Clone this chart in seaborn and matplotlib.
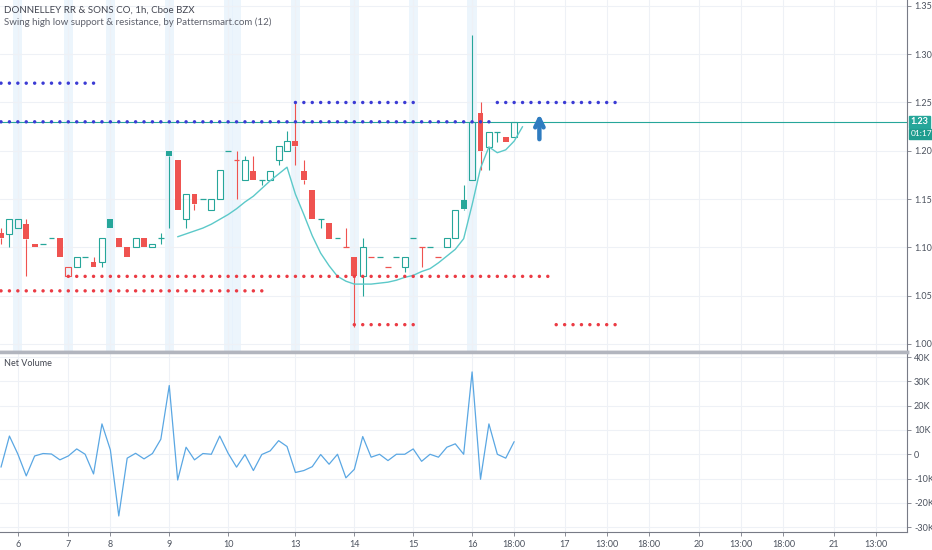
#!/usr/bin/env python3

import pandas
import seaborn as sns
import matplotlib.pyplot as plt
import matplotlib.transforms as mtransforms

# Hourly bars (index 0 = first visible bar)
opens = [1.115, 1.114, 1.120, 1.124, 1.104, 1.104, 1.110, 1.110, 1.070, 1.080,
         1.090, 1.085, 1.085, 1.129, 1.110, 1.100, 1.100, 1.110, 1.100, 1.110,
         1.200, 1.190, 1.129, 1.155, 1.150, 1.139, 1.150, 1.200, 1.190, 1.170,
         1.179, 1.170, 1.170, 1.190, 1.200, 1.210, 1.179, 1.159, 1.129, 1.125,
         1.110, 1.100, 1.090, 1.070, 1.090, 1.090, 1.080, 1.090, 1.080, 1.110,
         1.100, 1.100, 1.090, 1.100, 1.110, 1.149, 1.170, 1.239, 1.204, 1.219,
         1.2146, 1.2146]
highs = [1.120, 1.129, 1.129, 1.129, 1.104, 1.104, 1.110, 1.110, 1.080, 1.090,
         1.090, 1.090, 1.110, 1.129, 1.110, 1.100, 1.110, 1.110, 1.104, 1.115,
         1.200, 1.190, 1.155, 1.155, 1.150, 1.150, 1.180, 1.200, 1.200, 1.195,
         1.195, 1.170, 1.179, 1.205, 1.220, 1.250, 1.190, 1.159, 1.129, 1.125,
         1.110, 1.120, 1.090, 1.110, 1.090, 1.090, 1.080, 1.090, 1.090, 1.110,
         1.100, 1.100, 1.090, 1.110, 1.139, 1.165, 1.320, 1.250, 1.219, 1.219,
         1.2146, 1.230]
lows = [1.104, 1.100, 1.120, 1.070, 1.100, 1.104, 1.110, 1.090, 1.070, 1.080,
        1.090, 1.080, 1.080, 1.120, 1.100, 1.090, 1.100, 1.100, 1.100, 1.104,
        1.120, 1.139, 1.120, 1.139, 1.150, 1.139, 1.150, 1.200, 1.150, 1.170,
        1.170, 1.165, 1.170, 1.185, 1.200, 1.185, 1.166, 1.129, 1.120, 1.109,
        1.110, 1.100, 1.018, 1.050, 1.090, 1.090, 1.080, 1.090, 1.075, 1.110,
        1.080, 1.100, 1.090, 1.100, 1.110, 1.139, 1.170, 1.180, 1.180, 1.209,
        1.2094, 1.2146]
closes = [1.110, 1.129, 1.129, 1.109, 1.100, 1.104, 1.110, 1.090, 1.080, 1.090,
          1.090, 1.080, 1.110, 1.120, 1.100, 1.090, 1.110, 1.100, 1.104, 1.110,
          1.195, 1.139, 1.155, 1.145, 1.150, 1.150, 1.180, 1.200, 1.190, 1.190,
          1.170, 1.170, 1.179, 1.205, 1.210, 1.205, 1.170, 1.129, 1.129, 1.109,
          1.110, 1.100, 1.070, 1.100, 1.090, 1.090, 1.080, 1.090, 1.090, 1.110,
          1.100, 1.100, 1.090, 1.110, 1.139, 1.140, 1.230, 1.200, 1.219, 1.219,
          1.2094, 1.230]

# Net volume per bar, in thousands
net_volume_k = [-5.3, 7.5, 0.1, -8.9, -0.7, 0.3, 0.1, -2.3, -0.7, 2.2,
                0.0, -8.1, 12.5, 1.8, -25.4, -1.6, 0.4, -1.9, 0.3, 6.2,
                28.3, -10.6, 2.9, -2.3, 0.3, 0.0, 7.5, 0.4, -5.3, -0.1,
                -6.7, -0.1, 1.4, 5.6, 3.2, -7.5, -6.7, -5.1, -0.1, -4.1,
                0.0, -9.7, -6.2, 7.3, -1.2, 0.0, -2.6, 0.0, 0.0, 2.2,
                -2.9, 0.0, -1.2, 2.9, 4.3, 0.0, 33.9, -10.3, 12.5, 0.0,
                -1.6, 5.2]

# Teal trailing curve, starts at bar 21
curve_start = 21
curve_values = [1.111, 1.114, 1.117, 1.120, 1.124, 1.129, 1.134, 1.140, 1.147, 1.153,
                1.161, 1.169, 1.176, 1.183, 1.155, 1.134, 1.112, 1.094, 1.081, 1.070,
                1.065, 1.062, 1.062, 1.062, 1.063, 1.064, 1.066, 1.069, 1.071, 1.075,
                1.078, 1.084, 1.091, 1.098, 1.109, 1.144, 1.182, 1.204, 1.198, 1.201,
                1.210, 1.225]

# Swing high (resistance) and swing low (support) dotted levels
res_levels = [1.27, 1.23, 1.25, 1.25]
res_start = [0, 0, 35, 59]
res_end = [11, 58, 49, 73]
sup_levels = [1.055, 1.07, 1.02, 1.02]
sup_start = [0, 8, 42, 66]
sup_end = [31, 65, 49, 73]

# first bar of each session, highlighted
session_bars = [2, 8, 13, 20, 27, 28, 35, 42, 49, 56]

tick_bars = [2, 8, 13, 20, 27, 35, 42, 49, 56, 61, 67, 72, 77, 83, 88, 93, 99, 104]
tick_labels = ["6", "7", "8", "9", "10", "13", "14", "15", "16", "18:00",
               "17", "13:00", "18:00", "20", "13:00", "18:00", "21", "13:00"]

price_ticks = [1.00, 1.05, 1.10, 1.15, 1.20, 1.25, 1.30, 1.35]
volume_ticks = [-30, -20, -10, 0, 10, 20, 30, 40]
volume_labels = ["-30K", "-20K", "-10K", "0", "10K", "20K", "30K", "40K"]

last_price = 1.23
countdown = "01:17"
arrow_bar = 64
arrow_from = 1.212
arrow_to = 1.238

UP = "#26a69a"
DOWN = "#ef5350"
GRID = "#eef1f6"
TEXT = "#4c525e"


def draw_candles(ax):
    """
    Hollow candles: hollow when close > open, coloured by close vs prior close
    """
    w = 0.35
    for i, (o, h, l, c) in enumerate(zip(opens, highs, lows, closes)):
        prev = closes[i - 1] if i > 0 else o
        color = UP if c >= prev else DOWN
        top, bot = max(o, c), min(o, c)
        if h > top:
            ax.vlines(i, top, h, color=color, lw=0.8, zorder=3)
        if l < bot:
            ax.vlines(i, l, bot, color=color, lw=0.8, zorder=3)
        if c == o:
            ax.hlines(o, i - w, i + w, color=color, lw=0.9, zorder=3)
        elif c > o:
            ax.bar(i, top - bot, bottom=bot, width=2 * w, facecolor="none",
                   edgecolor=color, lw=0.8, zorder=3)
        else:
            ax.bar(i, top - bot, bottom=bot, width=2 * w, color=color,
                   lw=0, zorder=3)


def level_dots(levels, starts, ends, kind):
    rows = []
    for lev, s, e in zip(levels, starts, ends):
        for b in range(s, e + 1):
            rows.append({"bar": b, "price": lev, "kind": kind})
    return rows


def main():
    sns.set_theme(style="white")
    plt.rcParams["font.family"] = ["Lato", "DejaVu Sans"]

    fig = plt.figure(figsize=(9.32, 5.5), dpi=100)
    ax = fig.add_axes([0.0, 0.36, 907 / 932, 0.64])
    vax = fig.add_axes([0.0, 18 / 550, 907 / 932, 180 / 550], sharex=ax)

    xlim = (-0.12, 107.7)

    # ---- price panel ----
    for b in session_bars:
        ax.axvspan(b - 0.55, b + 0.55, color="#e6f2fc", alpha=0.75, lw=0, zorder=0)

    ax.axhline(last_price, color=UP, lw=0.8, zorder=2)

    draw_candles(ax)

    curve = pandas.DataFrame({
        "bar": range(curve_start, curve_start + len(curve_values)),
        "price": curve_values,
    })
    sns.lineplot(data=curve, x="bar", y="price", ax=ax, color="#5cc9c9",
                 lw=1.0, zorder=4)

    dots = pandas.DataFrame(
        level_dots(res_levels, res_start, res_end, "res")
        + level_dots(sup_levels, sup_start, sup_end, "sup")
    )
    sns.scatterplot(data=dots, x="bar", y="price", hue="kind",
                    palette={"res": "#3b3bd4", "sup": "#eb3b44"},
                    s=6, linewidth=0, legend=False, ax=ax, zorder=5)

    ax.annotate("", xy=(arrow_bar, arrow_to), xytext=(arrow_bar, arrow_from),
                arrowprops=dict(arrowstyle="->", color="#2f7cc0", lw=3.2,
                                mutation_scale=15, capstyle="round",
                                joinstyle="round", shrinkA=0, shrinkB=0),
                zorder=6)

    ax.set_xlim(*xlim)
    ax.set_ylim(0.9917, 1.3561)
    ax.set_yticks(price_ticks)
    ax.set_yticklabels([f"{p:.2f}" for p in price_ticks])
    ax.yaxis.tick_right()
    ax.grid(True, color=GRID, lw=0.8)
    ax.set_axisbelow(True)
    ax.set_xlabel("")
    ax.set_ylabel("")
    ax.tick_params(axis="x", bottom=False, labelbottom=False)
    ax.tick_params(axis="y", right=True, length=3, width=0.6, color="#787b86",
                   labelsize=6.5, labelcolor=TEXT, pad=2)
    for side in ["top", "left"]:
        ax.spines[side].set_visible(False)
    ax.spines["right"].set_color("#787b86")
    ax.spines["right"].set_linewidth(0.8)
    ax.spines["bottom"].set_color("#b2b5be")
    ax.spines["bottom"].set_linewidth(2.5)

    trans = mtransforms.blended_transform_factory(ax.transAxes, ax.transData)
    ax.text(1.004, last_price, f"{last_price:.2f}", transform=trans, va="center",
            ha="left", fontsize=6.5, color="white", fontweight="bold",
            bbox=dict(boxstyle="square,pad=0.2", fc=UP, ec=UP), clip_on=False)
    ax.annotate(countdown, xy=(1.004, last_price), xycoords=trans,
                xytext=(0, -12), textcoords="offset pixels", va="center",
                ha="left", fontsize=6, color="white",
                bbox=dict(boxstyle="square,pad=0.2", fc="#1f9d8f", ec="#1f9d8f"),
                annotation_clip=False)

    fig.text(4 / 932, 1 - 10 / 550, "DONNELLEY RR & SONS CO, 1h, Cboe BZX",
             fontsize=7, color="#434651", va="center", ha="left")
    fig.text(4 / 932, 1 - 22 / 550,
             "Swing high low support & resistance, by Patternsmart.com (12)",
             fontsize=7, color="#5d606b", va="center", ha="left")

    # ---- net volume panel ----
    vol = pandas.DataFrame({"bar": range(len(net_volume_k)), "net": net_volume_k})
    sns.lineplot(data=vol, x="bar", y="net", ax=vax, color="#5aa7e3", lw=0.9)

    vax.set_xlim(*xlim)
    vax.set_ylim(-32.0, 42.1)
    vax.set_yticks(volume_ticks)
    vax.set_yticklabels(volume_labels)
    vax.yaxis.tick_right()
    vax.set_xticks(tick_bars)
    vax.set_xticklabels(tick_labels)
    vax.grid(True, color=GRID, lw=0.8)
    vax.set_axisbelow(True)
    vax.set_xlabel("")
    vax.set_ylabel("")
    vax.tick_params(axis="y", right=True, length=3, width=0.6, color="#787b86",
                    labelsize=6.5, labelcolor=TEXT, pad=2)
    vax.tick_params(axis="x", bottom=True, length=3, width=0.6, color="#787b86",
                    labelsize=6.5, labelcolor=TEXT, pad=3)
    vax.spines["left"].set_visible(False)
    vax.spines["top"].set_color("#b2b5be")
    vax.spines["top"].set_linewidth(2.5)
    for side in ["right", "bottom"]:
        vax.spines[side].set_color("#787b86")
        vax.spines[side].set_linewidth(0.8)
    vax.annotate("Net Volume", xy=(0, 1), xycoords="axes fraction",
                 xytext=(4, -12), textcoords="offset pixels", fontsize=6.5,
                 color="#434651", va="center", ha="left")

    plt.savefig("out.png", dpi=100)
    plt.close()


if __name__ == "__main__":
    main()
